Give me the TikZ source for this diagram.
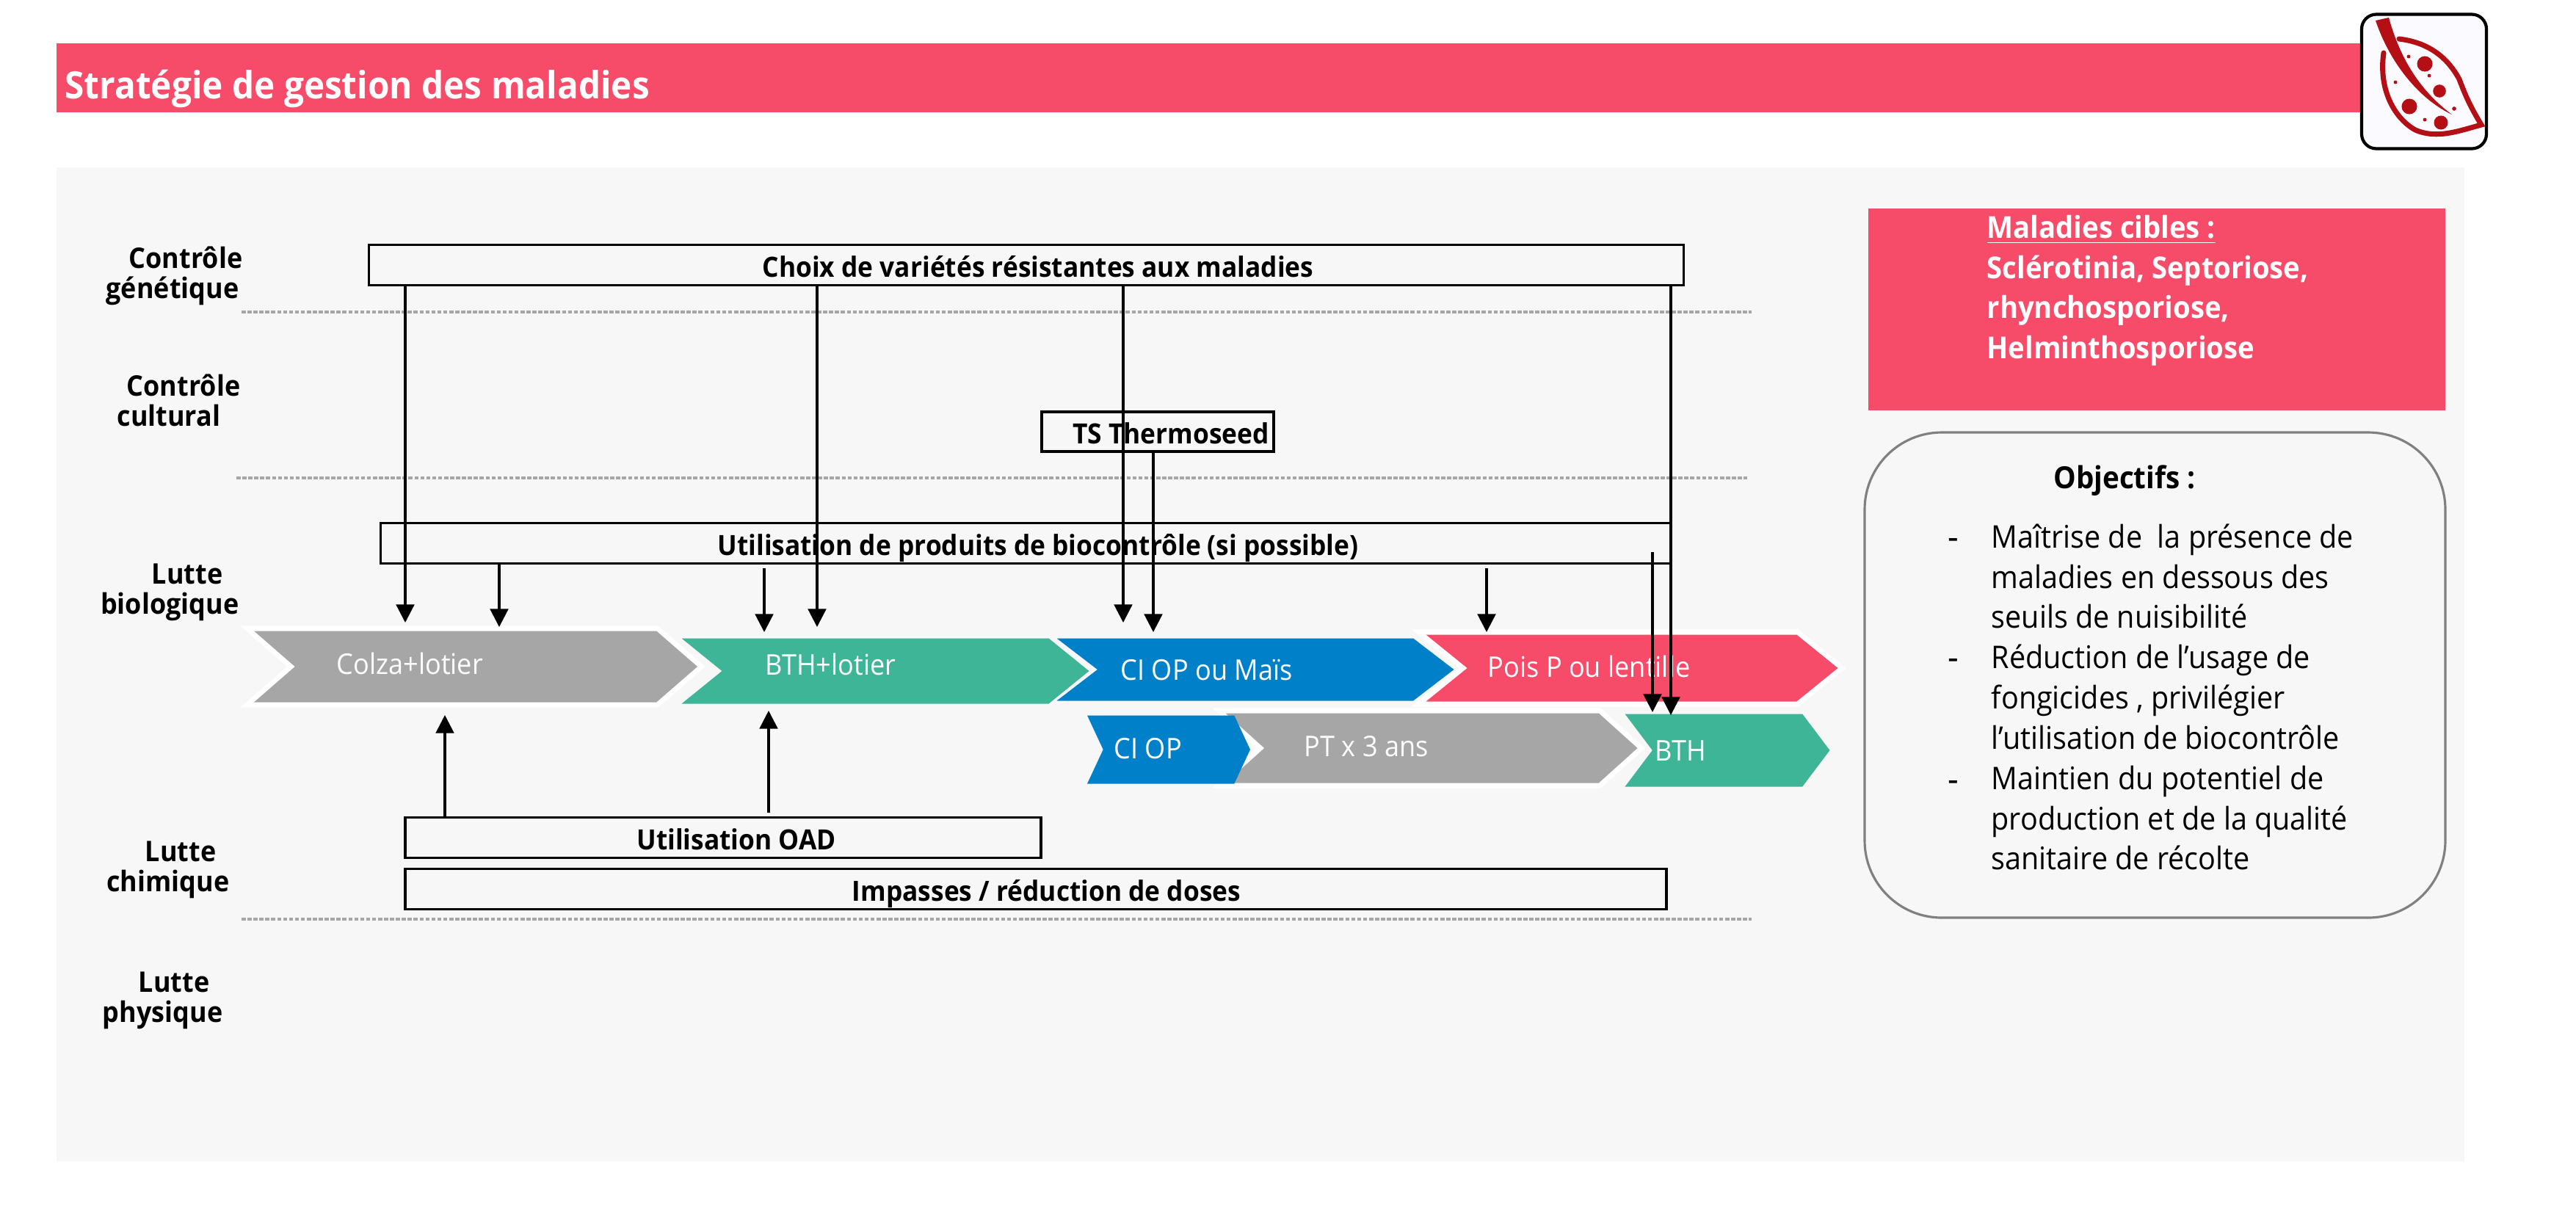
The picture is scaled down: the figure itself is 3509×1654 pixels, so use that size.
\documentclass[tikz,border=0pt]{standalone}
\usepackage{fontspec}
\setmainfont[FakeStretch=0.93]{Open Sans}
\usetikzlibrary{shapes.symbols,arrows.meta}
\definecolor{rouge}{HTML}{F64C69}
\definecolor{fond}{HTML}{F7F7F7}
\definecolor{gris}{HTML}{A6A6A6}
\definecolor{vert}{HTML}{3DB596}
\definecolor{bleu}{HTML}{0080C8}
\definecolor{feuille}{HTML}{B30F15}
\tikzset{
    lutte/.style={font=\fontsize{11}{11.6}\selectfont\bfseries, align=right, anchor=east, inner sep=0pt},
    levier/.style={draw=black, line width=1.1pt, fill=none, inner sep=0pt, text height=10pt, text depth=0.9pt, font=\fontsize{10.8}{12}\selectfont\bfseries},
    chevron/.style={signal, signal from=west, signal to=east, inner sep=0pt, outer sep=0pt},
    chevronb/.style={chevron, preaction={draw=white, line width=4pt}},
    culture/.style={text=white, font=\fontsize{11.05}{12}\selectfont, anchor=west, inner sep=0pt},
    fleche/.style={-{Triangle[length=7pt,width=7pt]}, line width=0.9pt},
    seuil/.style={dash pattern=on 1.6pt off 0.7pt, gris, line width=1pt},
    tache/.style={circle, fill=feuille, inner sep=0pt}
}
\begin{document}
\begin{tikzpicture}[x=0.1mm,y=-0.1mm]
    \useasboundingbox (0,0) rectangle (3509,1654);
    \fill[fond] (77,228) rectangle (3357,1582);
    % bandeau
    \node[fill=rouge, text=white, anchor=north west, minimum width=3141*0.1mm, minimum height=94*0.1mm, inner sep=0pt] (bandeau) at (76,58) {};
    \node[text=white, anchor=west, inner sep=0pt, font=\fontsize{14.6}{16}\selectfont\bfseries] (titre) at (88,121) {Stratégie de gestion des maladies};
    \node[draw=black, line width=1.2pt, fill=blue!2, rounded corners=2mm, minimum width=170*0.1mm, minimum height=183*0.1mm, inner sep=0pt] (icone) at (3302,111) {};
    % feuille
    \fill[feuille] (3236,28) .. controls (3255,85) and (3295,135) .. (3340,156) .. controls (3305,130) and (3272,90) .. (3254,24) -- cycle;
    \draw[feuille, line width=2pt, line cap=round] (3268,53) .. controls (3310,58) and (3335,80) .. (3350,108) .. controls (3360,135) and (3368,150) .. (3380,170) .. controls (3350,178) and (3320,190) .. (3290,177) .. controls (3260,160) and (3240,120) .. (3247,72);
    \foreach \x/\y/\r in {3303/87/6pt,3323/124/5pt,3282/145/6pt,3325/167/5.4pt,3281/77/1.4pt,3309/103/1.4pt,3263/112/1.4pt,3343/148/1.6pt,3303/163/1.4pt}
        \node[tache, minimum size=\r] at (\x,\y) {};

    % lignes
    \draw[seuil] (329,425) -- (2386,425);
    \draw[seuil] (322,651) -- (2380,651);
    \draw[seuil] (329,1252) -- (2386,1252);

    \node[lutte] (genetique) at (331,376) {Contrôle\\génétique\hspace*{0.5mm}};
    \node[lutte] (cultural) at (328,545) {Contrôle\\cultural\hspace*{2.7mm}};
    \node[lutte] (biologique) at (326,807) {Lutte\hspace*{2.2mm}\\biologique};
    \node[lutte] (chimique) at (313,1185) {Lutte\hspace*{1.8mm}\\chimique};
    \node[lutte] (physique) at (304,1363) {Lutte\hspace*{1.8mm}\\physique};

    % rotation
    \node[chevronb, fill=gris, minimum width=604*0.1mm, minimum height=97*0.1mm, signal pointer angle=82] (colza) at (648,908) {};
    \node[chevron, fill=vert, minimum width=555*0.1mm, minimum height=89*0.1mm, signal pointer angle=78] (bthlotier) at (1206,914) {};
    \node[chevron, fill=bleu, minimum width=541*0.1mm, minimum height=85*0.1mm, signal pointer angle=75] (ciop) at (1710,912) {};
    \node[chevronb, fill=rouge, minimum width=561*0.1mm, minimum height=91*0.1mm, signal pointer angle=78] (pois) at (2223,910) {};
    \node[chevronb, fill=gris, minimum width=561*0.1mm, minimum height=95*0.1mm, signal pointer angle=84] (pt) at (1950,1019) {};
    \node[chevron, fill=bleu, minimum width=222*0.1mm, minimum height=93*0.1mm, signal pointer angle=130] (ciopb) at (1592,1021) {};
    \node[chevron, fill=vert, minimum width=279*0.1mm, minimum height=99*0.1mm, signal pointer angle=106] (bth) at (2353,1022) {};
    \node[culture] (tcolza) at (458,904) {Colza+lotier};
    \node[culture] (tbthlotier) at (1042,905) {BTH+lotier};
    \node[culture] (tciop) at (1526,913) {CI OP ou Maïs};
    \node[culture] (tpois) at (2026,908) {Pois P ou lentille};
    \node[culture] (tciopb) at (1517,1020) {CI OP};
    \node[culture] (tpt) at (1776,1017) {PT x 3 ans};
    \node[culture] (tbth) at (2254,1023) {BTH};

    % leviers
    \node[levier, minimum width=1791*0.1mm, minimum height=55*0.1mm] (choix) at (1398,361) {\hspace*{3.2mm}Choix de variétés résistantes aux maladies};
    \node[levier, minimum width=316*0.1mm, minimum height=54*0.1mm] (ts) at (1577,588) {\hspace*{3.6mm}TS Thermoseed};
    \node[levier, minimum width=1757*0.1mm, minimum height=55*0.1mm] (bio) at (1397,740) {\hspace*{3.4mm}Utilisation de produits de biocontrôle (si possible)};
    \node[levier, minimum width=866*0.1mm, minimum height=55*0.1mm] (oad) at (985,1141) {\hspace*{3.6mm}Utilisation OAD};
    \node[levier, minimum width=1718*0.1mm, minimum height=55*0.1mm] (impasses) at (1411,1211) {\hspace*{2.9mm}Impasses / réduction de doses};

    \foreach \nom/\x/\y/\de in {a/552/848/choix,b/680/854/bio,d/1113/854/choix,e/1530/848/choix,f/1571/861/ts,i/2276/974/choix} {
        \coordinate (\nom) at (\x,\y);
        \draw[fleche] (\de.south -| \nom) -- (\nom);
    }
    \foreach \nom/\x/\y/\dy in {c/1041/861/774,g/2025/861/774,h/2251/970/752,k/1047/968/1107} {
        \coordinate (\nom0) at (\x,\dy);
        \coordinate (\nom) at (\x,\y);
        \draw[fleche] (\nom0) -- (\nom);
    }
    \coordinate (j) at (606,974);
    \draw[fleche] (oad.north -| j) -- (j);

    % droite
    \node[fill=rouge, minimum width=786*0.1mm, minimum height=275*0.1mm, inner sep=0pt] (cibles) at (2938,421) {};
    \node[anchor=north west, inner sep=0pt, align=left, text=white, font=\fontsize{11.7}{15.5}\selectfont\bfseries] (tcibles) at (2706,293) {\underline{Maladies cibles :}\\Sclérotinia, Septoriose,\\rhynchosporiose,\\Helminthosporiose};
    \node[draw=gray, line width=0.9pt, rounded corners=10.5mm, minimum width=791*0.1mm, minimum height=661*0.1mm, inner sep=0pt] (objectifs) at (2935.5,919.5) {};
    \node[font=\fontsize{11.8}{15.5}\selectfont\bfseries, inner sep=0pt] (tobjectifs) at (2894,655) {Objectifs :};
    \node[anchor=north west, inner sep=0pt, align=left, font=\fontsize{12.1}{15.6}\selectfont] (liste) at (2712,713) {Maîtrise de\ \ la présence de\\maladies en dessous des\\seuils de nuisibilité\\Réduction de l’usage de\\fongicides , privilégier\\l’utilisation de biocontrôle\\Maintien du potentiel de\\production et de la qualité\\sanitaire de récolte};
    \node[inner sep=0pt, font=\fontsize{14}{15}\selectfont] (t1) at (2661,741) {-};
    \node[inner sep=0pt, font=\fontsize{14}{15}\selectfont] (t2) at (2661,905) {-};
    \node[inner sep=0pt, font=\fontsize{14}{15}\selectfont] (t3) at (2661,1071) {-};
\end{tikzpicture}
\end{document}
